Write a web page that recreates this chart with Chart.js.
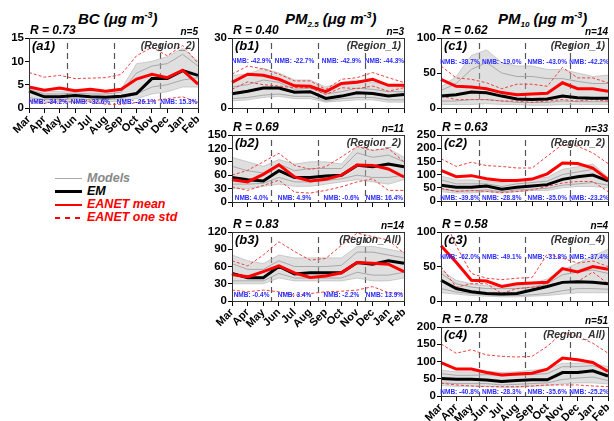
<!DOCTYPE html>
<html>
<head>
<meta charset="utf-8">
<script src="https://cdn.jsdelivr.net/npm/chart.js@4.4.1/dist/chart.umd.min.js"></script>
<style>
  body { margin:0; width:614px; height:421px; position:relative; overflow:hidden; background:#fff;
         font-family:"Liberation Sans", Arial, sans-serif; }
  canvas { position:absolute; }
  .ttl { position:absolute; font-weight:bold; font-style:italic; font-size:15px; line-height:18px; white-space:nowrap; }
  .ttl sup { font-size:9px; vertical-align:6px; }
  .ttl sub { font-size:8px; vertical-align:-3px; }
  .leg { position:absolute; left:55px; font-weight:bold; font-style:italic; font-size:12.5px; line-height:14px; white-space:nowrap; }
  .leg i { display:inline-block; width:27px; height:0; vertical-align:middle; margin-right:5px; }
</style>
</head>
<body>
<div class="ttl" style="left:78px;top:6px">BC (μg m<sup>-3</sup>)</div>
<div class="ttl" style="left:285px;top:6px">PM<sub>2.5</sub> (μg m<sup>-3</sup>)</div>
<div class="ttl" style="left:498px;top:6px">PM<sub>10</sub> (μg m<sup>-3</sup>)</div>

<div class="leg" style="top:171px;color:#888"><i style="border-top:1.5px solid #aaa"></i>Models</div>
<div class="leg" style="top:184px;color:#000"><i style="border-top:3px solid #000"></i>EM</div>
<div class="leg" style="top:197px;color:#f00"><i style="border-top:2.5px solid #f00"></i>EANET mean</div>
<div class="leg" style="top:210px;color:#f00"><i style="height:2px;background:repeating-linear-gradient(90deg,#f00 0 5px,transparent 5px 10px)"></i>EANET one std</div>

<script>
const months = ['Mar', 'Apr', 'May', 'Jun', 'Jul', 'Aug', 'Sep', 'Oct', 'Nov', 'Dec', 'Jan', 'Feb'];

// (a1) BC Region_2
const a1Obs = [4.5, 3.8, 4.3, 3.7, 4.0, 3.6, 4.0, 6.2, 7.2, 6.5, 8.1, 5.1];
const a1Em = [3.6, 2.4, 2.4, 2.7, 2.4, 2.3, 2.5, 3.1, 6.3, 6.3, 8.0, 7.0];
const a1Hi = [7.6, 6.6, 7.0, 6.3, 6.4, 6.5, 7.2, 11.2, 13.0, 11.2, 13.4, 9.6];
const a1Lo = [1.6, 1.0, 1.5, 1.2, 1.5, 0.8, 0.8, 1.2, 1.5, 2.0, 2.4, 1.2];
const a1Max = [4.5, 3.6, 3.5, 3.5, 3.5, 3.5, 4.0, 9.5, 10.0, 11.0, 12.8, 10.0];
const a1Min = [1.5, 1.3, 1.3, 1.3, 1.3, 1.3, 1.5, 2.0, 3.0, 3.5, 4.5, 4.5];
const a1M1 = [4.0, 3.0, 3.0, 3.2, 3.0, 3.0, 3.4, 7.5, 9.0, 9.5, 11.5, 9.0];
const a1M2 = [2.2, 1.8, 1.8, 2.0, 1.8, 1.8, 2.0, 3.0, 4.5, 5.0, 6.0, 6.5];

// (b1) PM2.5 Region_1
const b1Obs = [11, 14.5, 14, 12.3, 9.5, 9.3, 7, 10.5, 11, 12.3, 9.7, 9.8];
const b1Em = [6.1, 7.2, 8.6, 8.6, 6.8, 7.0, 4.1, 5.1, 6.5, 6.2, 5.1, 5.8];
const b1Hi = [14.5, 18, 16.7, 14.5, 11.6, 11.6, 8, 12.3, 13, 15.2, 13, 10.9];
const b1Lo = [8, 11.2, 10, 9.4, 8.7, 8.7, 5.8, 8.7, 8.3, 9.4, 7.2, 8.7];
const b1Max = [14, 14.5, 17, 15, 12, 12, 9, 11, 12, 11, 10, 9];
const b1Min = [3, 3.5, 4.5, 5, 4, 4, 2.5, 3, 3.5, 3.5, 2.5, 2.5];
const b1M1 = [9, 10, 12, 11, 8, 8.5, 6, 7, 8.5, 8, 7, 7];
const b1M2 = [4, 4.5, 5.5, 6, 5, 5, 3, 4, 4.5, 4.5, 3.5, 3.5];

// (b2) PM2.5 Region_2
const b2Obs = [50, 45, 62, 83, 56, 47, 51, 60, 83, 82, 74, 56];
const b2Em = [55, 50, 47, 70, 55, 55, 58, 60, 82, 79, 85, 79];
const b2Hi = [60, 71, 90, 109, 82, 73, 79, 101, 124, 116, 120, 90];
const b2Lo = [34, 26, 37, 49, 22, 20, 26, 34, 45, 52, 26, 26];
const b2Max = [100, 90, 80, 95, 85, 90, 90, 85, 125, 115, 120, 100];
const b2Min = [30, 30, 35, 40, 35, 35, 40, 45, 50, 45, 40, 50];
const b2M1 = [80, 70, 65, 85, 70, 75, 75, 75, 110, 100, 105, 90];
const b2M2 = [40, 40, 42, 55, 45, 45, 48, 52, 60, 55, 55, 60];

// (b3) PM2.5 Region_All
const b3Obs = [46, 42, 51, 61, 49, 41, 43.5, 49, 67, 65.5, 64, 51];
const b3Em = [48, 40.5, 40.5, 60, 47, 49, 49, 49, 67, 64, 70, 65.5];
const b3Hi = [70, 61, 80, 103, 86, 71, 74, 97, 118, 112, 106, 83];
const b3Lo = [19, 16, 19, 16, 10, 13, 16, 17, 19, 25, 14.5, 13];
const b3Max = [80, 70, 65, 80, 75, 75, 75, 75, 95, 95, 90, 85];
const b3Min = [30, 30, 30, 40, 35, 35, 35, 35, 40, 35, 35, 40];
const b3M1 = [65, 55, 55, 70, 60, 60, 60, 62, 85, 85, 80, 75];
const b3M2 = [35, 35, 35, 48, 40, 40, 40, 40, 50, 45, 45, 50];

// (c1) PM10 Region_1
const c1Obs = [41, 31, 30, 27.5, 22, 19, 20, 21, 36, 27.5, 27.5, 24];
const c1Em = [17, 19, 22.7, 21.7, 17, 13, 12, 13, 17, 14.5, 14, 14];
const c1Hi = [60, 43, 41, 36, 27.5, 34, 34, 31, 58, 43, 43, 36];
const c1Lo = [17, 12, 12, 12, 10, 10, 8, 10, 12, 10, 12, 10];
const c1Max = [30, 45, 75, 83, 65, 60, 60, 55, 55, 50, 45, 47];
const c1Min = [5, 5, 5, 6, 5, 5, 4, 4, 5, 5, 5, 5];
const c1M1 = [25, 35, 55, 65, 50, 45, 45, 42, 42, 38, 35, 35];
const c1M2 = [10, 10, 12, 12, 10, 8, 8, 8, 10, 9, 9, 9];

// (c2) PM10 Region_2
const c2Obs = [116, 92, 96, 84, 78, 78, 83, 103, 144, 142, 125, 82];
const c2Em = [60, 52, 52, 57, 45, 52, 57, 62, 82, 92, 98, 76];
const c2Hi = [160, 131, 147, 134, 131, 125, 125, 170, 214, 208, 182, 142];
const c2Lo = [48, 36, 40, 36, 32, 36, 42, 55, 68, 74, 74, 36];
const c2Max = [95, 80, 80, 75, 70, 80, 85, 90, 120, 130, 140, 90];
const c2Min = [35, 30, 30, 35, 30, 35, 40, 40, 50, 55, 55, 50];
const c2M1 = [80, 65, 65, 65, 55, 65, 70, 75, 100, 110, 120, 85];
const c2M2 = [45, 38, 38, 42, 35, 42, 45, 48, 60, 65, 70, 60];

// (c3) PM10 Region_4
const c3Obs = [80, 56, 30, 29, 21, 25, 26, 27, 47, 42, 50, 46];
const c3Em = [30, 18, 13.5, 11, 10, 11, 16, 21, 27, 28, 27, 25];
const c3Hi = [130, 80, 40, 33, 31, 33, 34, 68, 62, 55, 58, 50];
const c3Lo = [50, 20, 25, 25, 11, 18, 20, 22, 28, 28, 42, 25];
const c3Max = [45, 30, 25, 22, 22, 22, 25, 32, 45, 55, 65, 75];
const c3Min = [12, 10, 8, 7, 6, 6, 7, 8, 10, 12, 12, 12];
const c3M1 = [40, 25, 20, 18, 18, 18, 20, 25, 38, 42, 45, 40];
const c3M2 = [18, 13, 11, 9, 8, 8, 9, 11, 15, 18, 18, 17];

// (c4) PM10 Region_All
const c4Obs = [97, 78, 78, 68, 61, 64, 66, 78, 110, 105, 97, 71];
const c4Em = [51, 48.5, 48.5, 46.6, 42, 45, 47, 47, 68, 68, 73, 58];
const c4Hi = [151, 124, 134, 119, 115, 113, 115, 144, 183, 173, 153, 124];
const c4Lo = [37, 32, 29, 27, 27, 27, 29, 32, 32, 32, 29, 27];
const c4Max = [75, 70, 70, 72, 68, 70, 75, 78, 95, 95, 95, 85];
const c4Min = [30, 28, 28, 28, 25, 25, 28, 30, 35, 38, 38, 35];
const c4M1 = [65, 60, 60, 62, 58, 60, 62, 65, 85, 85, 88, 75];
const c4M2 = [38, 36, 36, 36, 32, 34, 36, 38, 48, 52, 55, 45];

const FONT = '"Liberation Sans"';

function panel(p) {
  const yW = 34, top = 22, right = 10, bot = p.months ? 34 : 8;
  const cv = document.createElement('canvas');
  cv.width = p.r - p.l + yW + right;
  cv.height = p.b - p.t + top + bot;
  cv.style.left = (p.l - yW) + 'px';
  cv.style.top = (p.t - top) + 'px';
  document.body.appendChild(cv);

  const deco = {
    id: 'deco',
    beforeDatasetsDraw(chart) {
      const { ctx, chartArea: a, scales: { x } } = chart;
      ctx.save();
      ctx.strokeStyle = '#555';
      ctx.lineWidth = 1.2;
      ctx.setLineDash([6, 4]);
      [2.5, 5.5, 8.5].forEach(v => {
        const px = Math.round(x.getPixelForValue(v)) + 0.5;
        ctx.beginPath(); ctx.moveTo(px, a.top + 5); ctx.lineTo(px, a.bottom); ctx.stroke();
      });
      ctx.restore();
    },
    afterDraw(chart) {
      const { ctx, chartArea: a, scales: { x } } = chart;
      ctx.save();
      ctx.strokeStyle = '#333';
      ctx.lineWidth = 1;
      ctx.strokeRect(Math.round(a.left) + 0.5, Math.round(a.top) + 0.5,
        Math.round(a.right - a.left), Math.round(a.bottom - a.top));

      ctx.fillStyle = '#000';
      ctx.textBaseline = 'bottom';
      ctx.textAlign = 'left';
      ctx.font = 'italic bold 12px ' + FONT;
      ctx.fillText('R = ' + p.R, a.left + 1, a.top - 1);
      ctx.textAlign = 'right';
      ctx.font = 'italic bold 10px ' + FONT;
      ctx.fillText('n=' + p.n, a.right, a.top - 1);

      ctx.textBaseline = 'top';
      ctx.textAlign = 'left';
      ctx.font = 'italic bold 13px ' + FONT;
      ctx.fillText(p.tag, a.left + 3, a.top + 2);
      ctx.textAlign = 'right';
      ctx.fillStyle = '#333';
      ctx.font = 'italic bold 10.5px ' + FONT;
      ctx.fillText('(' + p.region + ')', a.right - 3, a.top + 3);

      ctx.fillStyle = '#2a2aff';
      ctx.textAlign = 'center';
      ctx.textBaseline = 'middle';
      ctx.font = 'bold 6.5px ' + FONT;
      const ny = a.bottom - p.nmbAt * (a.bottom - a.top);
      [1.25, 4, 7, 9.75].forEach((c, i) => ctx.fillText('NMB: ' + p.nmb[i], x.getPixelForValue(c), ny));
      ctx.restore();
    }
  };

  const line = (data, color, width, dash) => ({
    data, borderColor: color, borderWidth: width, borderDash: dash || [], fill: false
  });

  new Chart(cv, {
    type: 'line',
    data: {
      labels: months,
      datasets: [
        line(p.obs, '#ff0000', 3),
        line(p.em, '#000000', 3),
        line(p.hi, '#f04040', 1, [3, 2]),
        line(p.lo, '#f04040', 1, [3, 2]),
        line(p.m1, '#9a9a9a', 0.8),
        line(p.m2, '#9a9a9a', 0.8),
        { data: p.max, borderColor: '#b0b0b0', borderWidth: 0.6, backgroundColor: 'rgba(185,185,185,0.45)', fill: '+1' },
        line(p.min, '#b0b0b0', 0.6)
      ]
    },
    options: {
      responsive: false,
      animation: false,
      layout: { padding: { top: top, right: right, left: 0, bottom: 0 } },
      elements: { point: { radius: 0 }, line: { tension: 0 } },
      plugins: { legend: { display: false }, tooltip: { enabled: false } },
      scales: {
        x: {
          grid: { drawOnChartArea: false, color: '#000', tickLength: 5 },
          border: { display: false },
          ticks: {
            autoSkip: false, maxRotation: 45, minRotation: 45, padding: 0, color: '#000',
            font: { family: 'Liberation Sans', weight: 'bold', size: 11 },
            callback: (v, i) => p.months ? months[i] : ''
          },
          afterFit: s => { s.height = bot; }
        },
        y: {
          min: 0,
          max: p.max_y,
          grid: { drawOnChartArea: false, color: '#000', tickLength: 4 },
          border: { display: false },
          ticks: {
            stepSize: p.step, autoSkip: false, padding: 1, color: '#000',
            font: { family: 'Liberation Sans', weight: 'bold', size: 11.5 }
          },
          afterFit: s => { s.width = yW; }
        }
      }
    },
    plugins: [deco]
  });
}

panel({ l: 29, r: 198, t: 38, b: 108, max_y: 15, step: 5, months: true, tag: '(a1)', region: 'Region_2',
  R: '0.73', n: 5, nmb: ['-34.2%', '-32.6%', '-26.1%', '15.3%'], nmbAt: 0.08,
  obs: a1Obs, em: a1Em, hi: a1Hi, lo: a1Lo, max: a1Max, min: a1Min, m1: a1M1, m2: a1M2 });

panel({ l: 232, r: 404, t: 38, b: 108, max_y: 30, step: 30, months: false, tag: '(b1)', region: 'Region_1',
  R: '0.40', n: 3, nmb: ['-42.9%', '-22.7%', '-42.9%', '-44.3%'], nmbAt: 0.67,
  obs: b1Obs, em: b1Em, hi: b1Hi, lo: b1Lo, max: b1Max, min: b1Min, m1: b1M1, m2: b1M2 });

panel({ l: 232, r: 404, t: 135, b: 202, max_y: 150, step: 30, months: false, tag: '(b2)', region: 'Region_2',
  R: '0.69', n: 11, nmb: ['4.0%', '4.9%', '-0.6%', '16.4%'], nmbAt: 0.06,
  obs: b2Obs, em: b2Em, hi: b2Hi, lo: b2Lo, max: b2Max, min: b2Min, m1: b2M1, m2: b2M2 });

panel({ l: 232, r: 404, t: 232, b: 301, max_y: 120, step: 30, months: true, tag: '(b3)', region: 'Region_All',
  R: '0.83', n: 14, nmb: ['-0.4%', '3.4%', '-2.2%', '13.9%'], nmbAt: 0.09,
  obs: b3Obs, em: b3Em, hi: b3Hi, lo: b3Lo, max: b3Max, min: b3Min, m1: b3M1, m2: b3M2 });

panel({ l: 441, r: 608, t: 38, b: 108, max_y: 100, step: 50, months: false, tag: '(c1)', region: 'Region_1',
  R: '0.62', n: 14, nmb: ['-38.7%', '-19.0%', '-43.0%', '-42.2%'], nmbAt: 0.66,
  obs: c1Obs, em: c1Em, hi: c1Hi, lo: c1Lo, max: c1Max, min: c1Min, m1: c1M1, m2: c1M2 });

panel({ l: 441, r: 608, t: 135, b: 201, max_y: 250, step: 50, months: false, tag: '(c2)', region: 'Region_2',
  R: '0.63', n: 33, nmb: ['-39.8%', '-28.8%', '-35.0%', '-23.2%'], nmbAt: 0.04,
  obs: c2Obs, em: c2Em, hi: c2Hi, lo: c2Lo, max: c2Max, min: c2Min, m1: c2M1, m2: c2M2 });

panel({ l: 441, r: 608, t: 232, b: 301, max_y: 100, step: 50, months: false, tag: '(c3)', region: 'Region_4',
  R: '0.58', n: 4, nmb: ['-62.0%', '-49.1%', '-31.8%', '-37.4%'], nmbAt: 0.64,
  obs: c3Obs, em: c3Em, hi: c3Hi, lo: c3Lo, max: c3Max, min: c3Min, m1: c3M1, m2: c3M2 });

panel({ l: 441, r: 608, t: 327, b: 396, max_y: 200, step: 50, months: true, tag: '(c4)', region: 'Region_All',
  R: '0.78', n: 51, nmb: ['-40.8%', '-28.3%', '-35.6%', '-25.2%'], nmbAt: 0.06,
  obs: c4Obs, em: c4Em, hi: c4Hi, lo: c4Lo, max: c4Max, min: c4Min, m1: c4M1, m2: c4M2 });
</script>
</body>
</html>
